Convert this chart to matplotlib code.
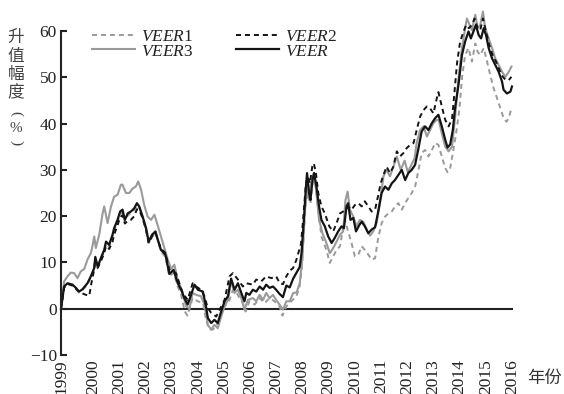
import matplotlib
matplotlib.use("Agg")
import matplotlib.pyplot as plt

plt.rcParams['font.family'] = ['Liberation Serif', 'DejaVu Serif']
plt.rcParams['mathtext.fontset'] = 'custom'
plt.rcParams['mathtext.it'] = 'Liberation Serif:italic'
plt.rcParams['mathtext.rm'] = 'Liberation Serif'
plt.rcParams['axes.unicode_minus'] = True

# ---- data: (time in years, appreciation %) ----
veer_t = [1998.77, 1998.89, 1999.02, 1999.21, 1999.34, 1999.46, 1999.59, 1999.78, 1999.91, 2000.04,
          2000.08, 2000.17, 2000.29, 2000.42, 2000.49, 2000.61, 2000.74, 2000.80, 2000.93, 2001.03,
          2001.12, 2001.21, 2001.32, 2001.44, 2001.57, 2001.67, 2001.76, 2001.89, 2002.02, 2002.12,
          2002.25, 2002.38, 2002.49, 2002.59, 2002.76, 2002.91, 2003.07, 2003.23, 2003.36, 2003.48,
          2003.61, 2003.74, 2003.87, 2004.00, 2004.19, 2004.31, 2004.38, 2004.51, 2004.63, 2004.76,
          2004.89, 2005.02, 2005.15, 2005.27, 2005.40, 2005.53, 2005.66, 2005.78, 2005.85, 2005.97,
          2006.10, 2006.23, 2006.36, 2006.49, 2006.61, 2006.74, 2006.87, 2006.99, 2007.12, 2007.25,
          2007.38, 2007.51, 2007.64, 2007.77, 2007.89, 2007.96, 2008.05, 2008.12, 2008.17, 2008.25,
          2008.30, 2008.38, 2008.44, 2008.53, 2008.63, 2008.72, 2008.85, 2008.98, 2009.11, 2009.23,
          2009.36, 2009.49, 2009.58, 2009.68, 2009.74, 2009.83, 2009.94, 2010.04, 2010.17, 2010.26,
          2010.38, 2010.51, 2010.64, 2010.77, 2010.89, 2011.02, 2011.15, 2011.28, 2011.41, 2011.53,
          2011.66, 2011.79, 2011.92, 2012.04, 2012.17, 2012.30, 2012.43, 2012.55, 2012.68, 2012.81,
          2012.94, 2013.07, 2013.19, 2013.32, 2013.45, 2013.54, 2013.64, 2013.74, 2013.83, 2013.96,
          2014.09, 2014.21, 2014.34, 2014.43, 2014.53, 2014.62, 2014.73, 2014.82, 2014.92, 2015.01,
          2015.11, 2015.24, 2015.36, 2015.49, 2015.62, 2015.68, 2015.81, 2015.94, 2016.00]
veer_v = [0.0, 4.8, 5.5, 5.2, 4.5, 3.7, 4.2, 5.5, 7.0, 8.8,
          11.2, 9.1, 10.9, 12.7, 14.5, 13.8, 16.0, 17.4, 19.2, 21.0,
          21.4, 19.2, 20.6, 21.0, 21.7, 22.8, 22.1, 19.9, 17.4, 14.5,
          16.0, 16.7, 14.5, 12.7, 11.7, 7.5, 8.4, 5.5, 4.1, 2.3,
          0.9, 3.0, 5.2, 4.1, 3.7, 0.5, -2.0, -3.1, -2.4, -3.1,
          -0.6, 1.6, 2.7, 6.5, 4.1, 5.5, 3.4, 1.6, 3.4, 3.0,
          4.1, 3.7, 4.8, 4.1, 5.2, 4.5, 4.8, 4.1, 3.2, 2.5,
          5.0, 4.6, 6.5, 7.8, 9.0, 12.0, 19.2, 25.7, 29.3, 25.0,
          23.5, 27.8, 29.3, 26.4, 22.1, 19.2, 17.8, 15.6, 14.2, 15.3,
          16.7, 17.8, 17.4, 22.1, 22.8, 19.2, 19.6, 16.7, 18.1, 18.8,
          17.8, 16.3, 17.1, 17.6, 21.0, 25.0, 26.4, 25.7, 27.1, 27.8,
          28.9, 30.0, 27.8, 29.3, 30.0, 31.1, 34.7, 38.3, 39.4, 38.6,
          40.1, 41.2, 41.9, 39.4, 36.5, 34.8, 35.5, 38.6, 43.5, 48.5,
          54.8, 57.7, 59.9, 58.4, 59.9, 61.3, 59.1, 58.4, 60.6, 59.1,
          56.3, 54.1, 52.7, 51.2, 49.1, 47.3, 46.5, 46.9, 48.0]

veer1_t = [1998.77, 1998.89, 1999.02, 1999.21, 1999.34, 1999.46, 1999.59, 1999.78, 1999.91, 2000.04,
           2000.08, 2000.17, 2000.29, 2000.42, 2000.49, 2000.61, 2000.74, 2000.80, 2000.93, 2001.03,
           2001.12, 2001.21, 2001.32, 2001.44, 2001.57, 2001.67, 2001.76, 2001.89, 2002.02, 2002.12,
           2002.25, 2002.38, 2002.49, 2002.59, 2002.76, 2002.91, 2003.07, 2003.23, 2003.36, 2003.50,
           2003.60, 2003.80, 2004.00, 2004.20, 2004.31, 2004.44, 2004.57, 2004.70, 2004.83, 2005.02,
           2005.21, 2005.34, 2005.46, 2005.59, 2005.72, 2005.82, 2005.97, 2006.17, 2006.36, 2006.55,
           2006.74, 2006.93, 2007.12, 2007.23, 2007.38, 2007.57, 2007.76, 2007.88, 2007.96, 2008.05,
           2008.12, 2008.21, 2008.30, 2008.40, 2008.49, 2008.60, 2008.72, 2008.91, 2009.04, 2009.17,
           2009.30, 2009.43, 2009.55, 2009.62, 2009.74, 2009.87, 2010.00, 2010.13, 2010.26, 2010.38,
           2010.51, 2010.64, 2010.77, 2010.89, 2011.02, 2011.15, 2011.28, 2011.41, 2011.53, 2011.66,
           2011.79, 2011.92, 2012.04, 2012.17, 2012.30, 2012.43, 2012.55, 2012.68, 2012.81, 2012.94,
           2013.07, 2013.19, 2013.32, 2013.45, 2013.54, 2013.64, 2013.74, 2013.87, 2013.99, 2014.09,
           2014.21, 2014.34, 2014.47, 2014.60, 2014.69, 2014.79, 2014.92, 2015.05, 2015.17, 2015.30,
           2015.43, 2015.56, 2015.68, 2015.79, 2015.88, 2015.98]
veer1_v = [0.0, 4.5, 5.2, 5.0, 4.3, 3.5, 4.0, 5.2, 6.8, 8.5,
           10.8, 8.9, 10.5, 12.3, 14.0, 13.4, 15.5, 17.0, 18.8, 20.5,
           20.8, 18.8, 20.2, 20.6, 21.3, 22.4, 21.8, 19.6, 17.0, 14.2,
           15.7, 16.4, 14.2, 12.4, 11.2, 7.0, 7.8, 4.8, 3.0, -0.6,
           -1.5, 2.3, 1.6, 1.2, -2.4, -4.5, -4.5, -3.8, -2.0, 0.5,
           1.9, 4.1, 3.7, 2.3, 1.2, -0.6, 1.6, 0.9, 2.3, 1.2,
           2.3, 1.6, 0.5, -1.5, 0.5, 1.6, 2.7, 4.5, 8.0, 16.3,
           22.8, 24.2, 22.8, 27.8, 27.1, 21.4, 15.6, 12.7, 9.9, 11.3,
           12.7, 13.5, 17.4, 19.2, 16.7, 14.2, 11.3, 11.7, 13.5, 12.7,
           11.7, 10.6, 10.9, 15.3, 18.5, 19.9, 20.6, 21.0, 22.1, 22.8,
           21.4, 22.8, 23.9, 25.0, 26.4, 30.0, 33.6, 34.3, 32.9, 34.3,
           35.8, 35.4, 32.9, 30.4, 29.5, 30.4, 33.6, 38.0, 43.0, 49.8,
           54.8, 56.3, 53.4, 57.3, 55.5, 54.8, 56.3, 53.4, 50.5, 47.6,
           45.5, 43.3, 41.2, 40.4, 41.2, 43.3]

veer2_t = [1998.77, 1998.89, 1999.02, 1999.21, 1999.34, 1999.46, 1999.59, 1999.72, 1999.85, 1999.93,
           2000.04, 2000.08, 2000.17, 2000.29, 2000.42, 2000.49, 2000.61, 2000.74, 2000.80, 2000.93,
           2001.03, 2001.12, 2001.21, 2001.32, 2001.44, 2001.57, 2001.67, 2001.76, 2001.89, 2002.02,
           2002.12, 2002.25, 2002.38, 2002.49, 2002.59, 2002.76, 2002.91, 2003.16, 2003.42, 2003.61,
           2003.80, 2003.93, 2004.12, 2004.25, 2004.38, 2004.51, 2004.70, 2004.83, 2005.02, 2005.21,
           2005.34, 2005.53, 2005.72, 2005.85, 2006.10, 2006.23, 2006.42, 2006.61, 2006.81, 2006.99,
           2007.13, 2007.25, 2007.38, 2007.51, 2007.64, 2007.76, 2007.86, 2007.94, 2008.02, 2008.12,
           2008.19, 2008.28, 2008.37, 2008.43, 2008.51, 2008.60, 2008.72, 2008.85, 2009.02, 2009.17,
           2009.30, 2009.43, 2009.55, 2009.66, 2009.74, 2009.87, 2010.00, 2010.13, 2010.26, 2010.38,
           2010.51, 2010.64, 2010.77, 2010.89, 2010.98, 2011.09, 2011.21, 2011.34, 2011.47, 2011.60,
           2011.72, 2011.85, 2011.98, 2012.11, 2012.24, 2012.36, 2012.49, 2012.62, 2012.75, 2012.87,
           2013.00, 2013.13, 2013.19, 2013.32, 2013.45, 2013.58, 2013.71, 2013.80, 2013.90, 2014.02,
           2014.15, 2014.25, 2014.35, 2014.47, 2014.57, 2014.69, 2014.79, 2014.89, 2015.01, 2015.13,
           2015.26, 2015.39, 2015.52, 2015.65, 2015.77, 2015.88, 2015.98]
veer2_v = [0.0, 4.6, 5.4, 5.0, 4.3, 3.6, 3.3, 3.0, 2.8, 5.5,
           8.5, 10.8, 8.8, 10.2, 12.0, 13.5, 12.9, 14.5, 16.0, 18.0,
           19.8, 20.2, 18.4, 19.0, 19.2, 20.0, 21.5, 21.3, 19.5, 17.0,
           14.2, 15.6, 16.4, 14.5, 13.0, 12.0, 8.4, 7.7, 3.4, 1.9,
           5.5, 4.8, 4.1, 2.7, 0.1, -0.9, -1.7, -0.2, 1.9, 7.0,
           7.7, 6.3, 4.8, 5.5, 5.2, 6.3, 5.9, 7.0, 6.6, 7.0,
           5.5, 5.3, 7.0, 8.2, 8.8, 10.5, 12.4, 14.0, 19.2, 26.4,
           28.6, 27.1, 30.7, 31.4, 29.3, 25.0, 22.1, 20.6, 17.8, 16.7,
           18.5, 20.6, 21.0, 21.4, 22.1, 21.4, 22.4, 22.8, 22.1, 23.2,
           22.1, 21.0, 21.4, 24.5, 27.0, 28.9, 30.7, 29.3, 30.7, 34.0,
           32.9, 33.6, 34.7, 35.4, 35.8, 38.6, 41.5, 42.9, 43.7, 43.3,
           42.2, 45.5, 46.8, 43.7, 40.8, 39.4, 41.0, 46.5, 53.0, 57.7,
           59.9, 61.3, 60.6, 61.3, 62.7, 60.6, 60.2, 62.7, 59.9, 57.0,
           54.8, 53.4, 51.6, 50.1, 49.4, 49.4, 50.1]

veer3_t = [1998.77, 1998.89, 1999.02, 1999.14, 1999.27, 1999.40, 1999.53, 1999.66, 1999.78, 1999.91,
           1999.97, 2000.04, 2000.10, 2000.23, 2000.36, 2000.42, 2000.55, 2000.68, 2000.80, 2000.93,
           2001.06, 2001.12, 2001.25, 2001.38, 2001.51, 2001.63, 2001.72, 2001.83, 2001.95, 2002.08,
           2002.21, 2002.34, 2002.46, 2002.59, 2002.72, 2002.85, 2002.98, 2003.10, 2003.23, 2003.42,
           2003.55, 2003.68, 2003.80, 2003.93, 2004.12, 2004.25, 2004.38, 2004.51, 2004.63, 2004.76,
           2004.89, 2005.02, 2005.15, 2005.27, 2005.40, 2005.53, 2005.66, 2005.78, 2005.91, 2006.10,
           2006.23, 2006.36, 2006.49, 2006.61, 2006.74, 2006.87, 2006.99, 2007.12, 2007.25, 2007.38,
           2007.51, 2007.64, 2007.77, 2007.89, 2007.99, 2008.08, 2008.17, 2008.25, 2008.34, 2008.43,
           2008.53, 2008.63, 2008.76, 2008.91, 2009.04, 2009.17, 2009.30, 2009.43, 2009.55, 2009.64,
           2009.72, 2009.81, 2009.94, 2010.06, 2010.19, 2010.32, 2010.45, 2010.58, 2010.70, 2010.83,
           2010.96, 2011.09, 2011.21, 2011.34, 2011.47, 2011.60, 2011.75, 2011.90, 2012.02, 2012.15,
           2012.28, 2012.36, 2012.49, 2012.62, 2012.75, 2012.87, 2013.00, 2013.13, 2013.20, 2013.32,
           2013.45, 2013.58, 2013.71, 2013.83, 2013.96, 2014.09, 2014.21, 2014.28, 2014.38, 2014.47,
           2014.60, 2014.69, 2014.79, 2014.89, 2014.98, 2015.11, 2015.24, 2015.36, 2015.49, 2015.62,
           2015.75, 2015.88, 2015.98]
veer3_v = [0.0, 5.9, 7.0, 7.8, 7.7, 6.6, 8.1, 8.6, 10.6, 12.0,
           13.5, 15.6, 13.1, 16.0, 20.6, 22.1, 18.5, 22.1, 24.2, 24.6,
           26.8, 26.8, 25.0, 25.0, 26.0, 26.4, 27.5, 25.7, 22.4, 19.9,
           19.2, 20.3, 18.1, 15.6, 13.1, 10.6, 8.6, 9.5, 6.3, 3.4,
           0.5, 0.1, 3.4, 3.0, 2.7, 0.9, -3.5, -4.5, -3.5, -4.2,
           -1.7, 0.5, 1.9, 6.0, 3.4, 4.1, 2.3, -0.2, 1.9, 2.3,
           1.6, 3.0, 1.9, 3.4, 2.3, 3.0, 1.9, 0.9, -0.2, 1.6,
           1.6, 3.4, 3.5, 5.5, 10.6, 20.6, 26.4, 23.5, 27.8, 29.3,
           25.0, 19.2, 16.3, 14.2, 12.0, 13.1, 14.5, 16.0, 16.7, 23.5,
           25.3, 21.4, 19.9, 17.8, 19.2, 18.8, 17.1, 15.8, 16.7, 18.5,
           23.0, 28.6, 30.0, 28.6, 30.7, 32.9, 30.0, 32.0, 29.5, 31.0,
           32.5, 35.8, 38.6, 39.4, 37.2, 38.6, 40.1, 40.8, 40.8, 37.9,
           35.0, 34.0, 35.0, 41.5, 50.0, 56.3, 60.6, 62.7, 61.3, 60.2,
           63.5, 60.6, 61.3, 64.2, 60.6, 58.4, 56.3, 54.1, 52.7, 51.2,
           50.1, 51.2, 52.3]

year_ticks = [1998.8] + list(range(2000, 2017))
year_labels = [str(y) for y in range(1999, 2017)]
y_ticks = [-10, 0, 10, 20, 30, 40, 50, 60]

# ---- figure ----
W, H = 564, 394
fig = plt.figure(figsize=(W / 100, H / 100), dpi=100)
ax = fig.add_axes([61 / W, 1 - 355 / H, (513 - 61) / W, (355 - 31) / H])

gray = '#9a9a9a'
dark = '#141414'
l3, = ax.plot(veer3_t, veer3_v, color=gray, lw=1.5, clip_on=False)
l1, = ax.plot(veer1_t, veer1_v, color=gray, lw=1.4, linestyle=(0, (2.6, 2.0)), clip_on=False)
l2, = ax.plot(veer2_t, veer2_v, color=dark, lw=1.4, linestyle=(0, (2.6, 2.0)), clip_on=False)
l0, = ax.plot(veer_t, veer_v, color=dark, lw=1.6, clip_on=False)

ax.axhline(0, color='#222222', lw=1.5, zorder=1)

ax.set_xlim(1998.77, 2016.04)
ax.set_ylim(-10, 60)
for s in ['top', 'right', 'bottom']:
    ax.spines[s].set_visible(False)
ax.spines['left'].set_linewidth(1.5)
ax.spines['left'].set_color('#222222')

ax.set_yticks(y_ticks)
ax.tick_params(axis='y', direction='in', length=4, width=1.5, color='#222222',
               labelsize=12.5, labelcolor='#222222', pad=3)
ax.set_xticks(year_ticks)
ax.set_xticklabels(year_labels, rotation=90)
ax.tick_params(axis='x', length=0, labelsize=12.5, labelcolor='#222222', pad=3)

# legend in two columns
handles = [l1, l3, l2, l0]
labels = [r'$\mathit{VEER}$1', r'$\mathit{VEER}$3', r'$\mathit{VEER}$2', r'$\mathit{VEER}$']
leg = fig.legend(handles, labels, ncol=2, loc='upper left',
                 bbox_to_anchor=(92 / W, 1 - 29 / H), frameon=False,
                 fontsize=12.5, handlelength=2.5, handletextpad=0.35,
                 columnspacing=2.4, labelspacing=-0.1, borderpad=0, borderaxespad=0)
for t in leg.get_texts():
    t.set_color('#222222')

# vertical y-axis title
cjk = ['Noto Sans CJK SC', 'DejaVu Sans']
title_color = '#444444'
chars = [('升', 37.5), ('值', 56.5), ('幅', 75), ('度', 93)]
for ch, yc in chars:
    fig.text(16 / W, 1 - yc / H, ch, ha='center', va='center', fontsize=12,
             family=cjk, color=title_color)
fig.text(16 / W, 1 - 114 / H, '(', ha='center', va='center', fontsize=11,
         color=title_color, rotation=-90)
fig.text(16 / W, 1 - 128 / H, '%', ha='center', va='center', fontsize=11,
         color=title_color)
fig.text(16 / W, 1 - 143 / H, ')', ha='center', va='center', fontsize=11,
         color=title_color, rotation=-90)

fig.text(545 / W, 1 - 378 / H, '年份', ha='center', va='center', fontsize=12.5,
         family=cjk, color='#333333')

fig.savefig('out.png', dpi=100)
